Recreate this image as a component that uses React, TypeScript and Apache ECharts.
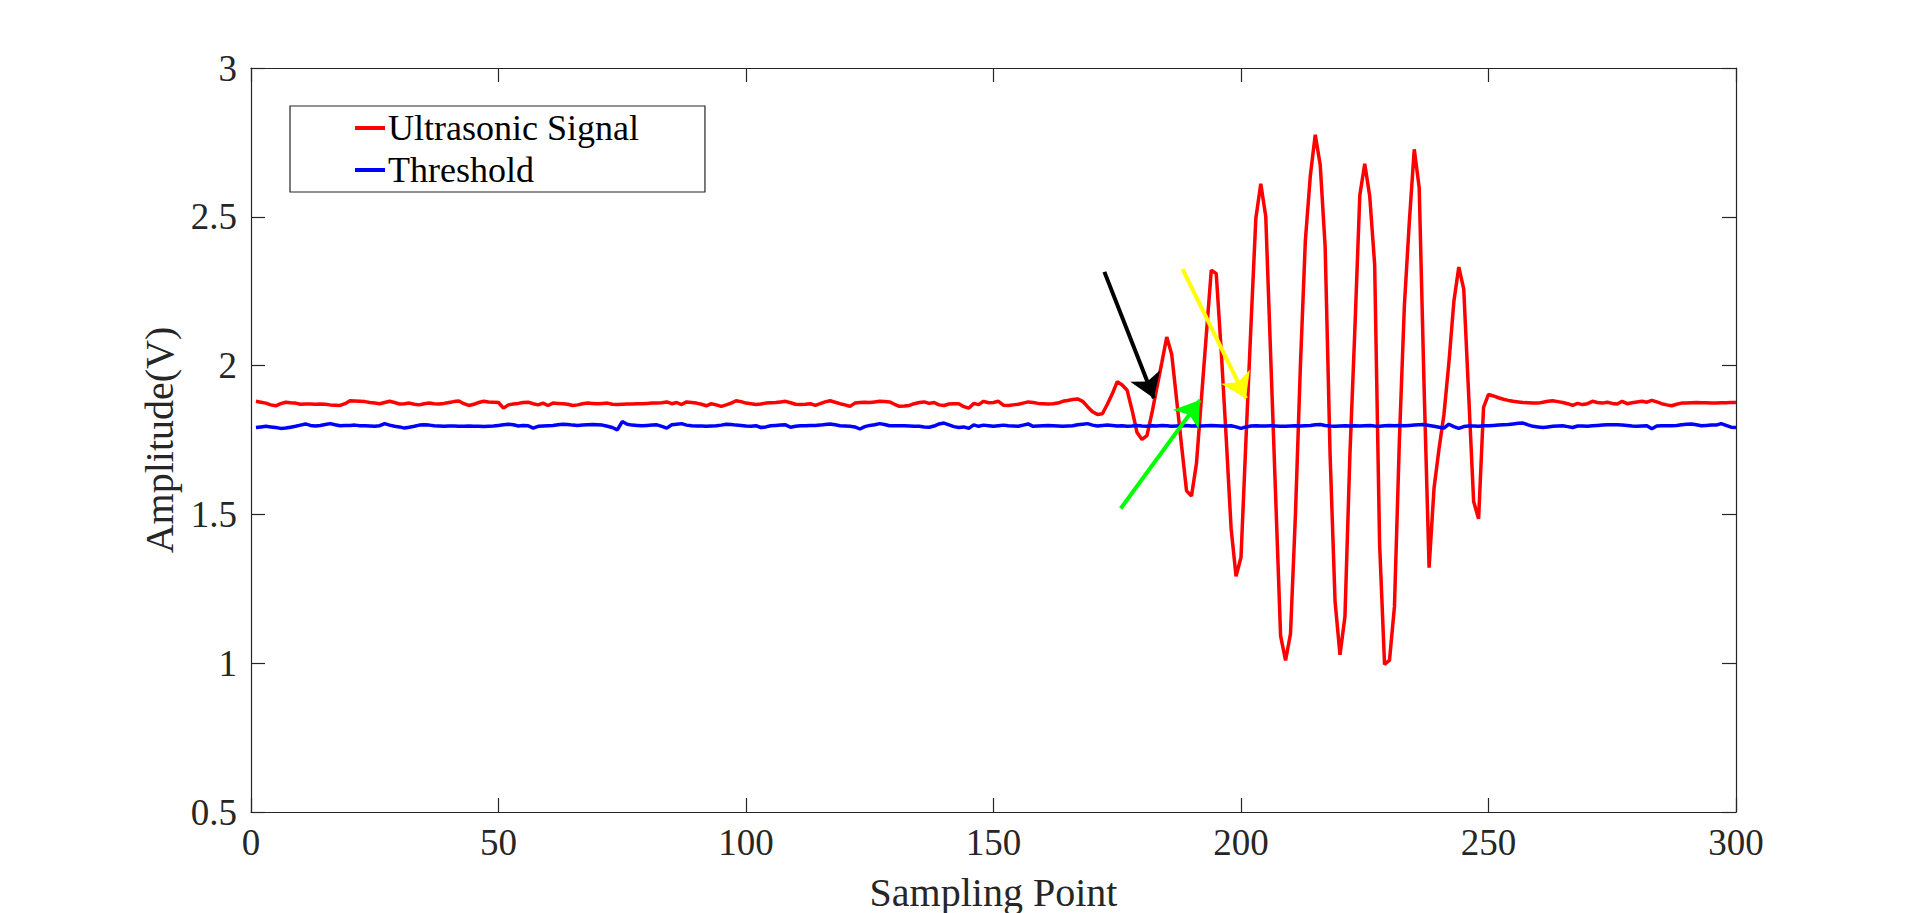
import React, { useEffect, useRef } from "react";
import * as echarts from "echarts";

const signal: number[] = [
  1.880, 1.877, 1.874, 1.868, 1.865, 1.872, 1.877, 1.875, 1.874, 1.870,
  1.871, 1.871, 1.870, 1.871, 1.870, 1.868, 1.867, 1.866, 1.872, 1.882,
  1.881, 1.880, 1.879, 1.876, 1.874, 1.872, 1.876, 1.880, 1.876, 1.871,
  1.872, 1.874, 1.870, 1.868, 1.872, 1.874, 1.872, 1.871, 1.873, 1.876,
  1.879, 1.881, 1.872, 1.866, 1.870, 1.876, 1.880, 1.878, 1.877, 1.876,
  1.857, 1.868, 1.871, 1.873, 1.876, 1.877, 1.872, 1.868, 1.874, 1.866,
  1.874, 1.873, 1.872, 1.870, 1.866, 1.868, 1.872, 1.874, 1.873, 1.872,
  1.873, 1.874, 1.870, 1.869, 1.870, 1.871, 1.871, 1.872, 1.872, 1.873,
  1.874, 1.874, 1.875, 1.878, 1.872, 1.876, 1.869, 1.878, 1.876, 1.874,
  1.870, 1.865, 1.872, 1.868, 1.863, 1.868, 1.874, 1.882, 1.879, 1.874,
  1.872, 1.869, 1.871, 1.874, 1.875, 1.876, 1.878, 1.880, 1.875, 1.870,
  1.869, 1.870, 1.872, 1.866, 1.872, 1.878, 1.882, 1.877, 1.872, 1.868,
  1.863, 1.874, 1.876, 1.877, 1.876, 1.878, 1.880, 1.879, 1.878, 1.870,
  1.863, 1.864, 1.866, 1.872, 1.876, 1.878, 1.873, 1.876, 1.868, 1.866,
  1.871, 1.872, 1.872, 1.862, 1.857, 1.873, 1.869, 1.880, 1.875, 1.876,
  1.880, 1.867, 1.866, 1.868, 1.870, 1.874, 1.878, 1.876, 1.873, 1.872,
  1.871, 1.872, 1.874, 1.880, 1.883, 1.886, 1.888, 1.880, 1.862, 1.845,
  1.836, 1.838, 1.870, 1.905, 1.946, 1.935, 1.917, 1.850, 1.775, 1.752,
  1.765, 1.840, 1.925, 2.010, 2.096, 2.038, 1.885, 1.730, 1.579, 1.562,
  1.671, 1.888, 2.105, 2.321, 2.309, 2.050, 1.760, 1.453, 1.292, 1.356,
  1.750, 2.130, 2.495, 2.611, 2.501, 2.030, 1.560, 1.092, 1.009, 1.099,
  1.500, 2.000, 2.420, 2.637, 2.776, 2.675, 2.400, 1.700, 1.208, 1.028,
  1.157, 1.700, 2.120, 2.572, 2.678, 2.570, 2.340, 1.400, 0.996, 1.010,
  1.190, 1.750, 2.200, 2.482, 2.727, 2.598, 1.920, 1.321, 1.589, 1.720,
  1.836, 2.010, 2.215, 2.331, 2.257, 1.900, 1.543, 1.485, 1.860, 1.903,
  1.898, 1.892, 1.887, 1.883, 1.880, 1.878, 1.876, 1.875, 1.874, 1.874,
  1.877, 1.880, 1.882, 1.879, 1.876, 1.872, 1.866, 1.873, 1.869, 1.872,
  1.880, 1.876, 1.874, 1.877, 1.873, 1.871, 1.880, 1.872, 1.875, 1.878,
  1.880, 1.877, 1.883, 1.878, 1.872, 1.868, 1.865, 1.870, 1.874, 1.874,
  1.875, 1.876, 1.875, 1.875, 1.874, 1.874, 1.875, 1.875, 1.876, 1.876,
];

const threshold: number[] = [
  1.792, 1.794, 1.796, 1.794, 1.792, 1.789, 1.790, 1.793, 1.796, 1.800,
  1.804, 1.799, 1.797, 1.799, 1.802, 1.805, 1.801, 1.798, 1.799, 1.799,
  1.800, 1.798, 1.798, 1.797, 1.796, 1.798, 1.805, 1.800, 1.796, 1.794,
  1.790, 1.793, 1.796, 1.800, 1.801, 1.800, 1.798, 1.797, 1.796, 1.797,
  1.797, 1.796, 1.796, 1.797, 1.796, 1.796, 1.795, 1.796, 1.797, 1.799,
  1.801, 1.803, 1.801, 1.797, 1.799, 1.798, 1.790, 1.796, 1.797, 1.798,
  1.799, 1.801, 1.803, 1.802, 1.800, 1.799, 1.800, 1.801, 1.802, 1.801,
  1.800, 1.796, 1.792, 1.784, 1.812, 1.803, 1.800, 1.799, 1.798, 1.799,
  1.800, 1.801, 1.796, 1.790, 1.801, 1.803, 1.805, 1.800, 1.798, 1.797,
  1.797, 1.796, 1.797, 1.798, 1.800, 1.803, 1.802, 1.800, 1.799, 1.797,
  1.796, 1.798, 1.792, 1.794, 1.798, 1.799, 1.800, 1.801, 1.793, 1.796,
  1.798, 1.798, 1.799, 1.799, 1.800, 1.802, 1.804, 1.801, 1.798, 1.797,
  1.796, 1.794, 1.787, 1.795, 1.799, 1.801, 1.805, 1.802, 1.798, 1.798,
  1.798, 1.798, 1.797, 1.796, 1.796, 1.794, 1.793, 1.797, 1.804, 1.807,
  1.801, 1.795, 1.792, 1.794, 1.789, 1.801, 1.796, 1.800, 1.798, 1.796,
  1.798, 1.800, 1.798, 1.797, 1.796, 1.800, 1.804, 1.796, 1.797, 1.798,
  1.799, 1.798, 1.797, 1.796, 1.797, 1.798, 1.801, 1.803, 1.805, 1.800,
  1.797, 1.799, 1.800, 1.799, 1.797, 1.798, 1.796, 1.797, 1.799, 1.797,
  1.796, 1.798, 1.797, 1.799, 1.798, 1.796, 1.797, 1.798, 1.799, 1.797,
  1.798, 1.797, 1.798, 1.799, 1.798, 1.797, 1.797, 1.798, 1.794, 1.789,
  1.794, 1.797, 1.798, 1.797, 1.797, 1.798, 1.797, 1.796, 1.796, 1.797,
  1.798, 1.797, 1.798, 1.799, 1.801, 1.802, 1.799, 1.797, 1.796, 1.797,
  1.798, 1.797, 1.798, 1.797, 1.798, 1.799, 1.797, 1.796, 1.798, 1.799,
  1.798, 1.799, 1.798, 1.799, 1.800, 1.801, 1.802, 1.799, 1.796, 1.793,
  1.790, 1.803, 1.795, 1.789, 1.795, 1.797, 1.797, 1.796, 1.798, 1.798,
  1.799, 1.800, 1.801, 1.802, 1.804, 1.806, 1.807, 1.801, 1.796, 1.794,
  1.792, 1.794, 1.796, 1.797, 1.798, 1.795, 1.792, 1.797, 1.797, 1.796,
  1.798, 1.799, 1.800, 1.801, 1.801, 1.801, 1.800, 1.799, 1.797, 1.796,
  1.797, 1.798, 1.788, 1.797, 1.798, 1.798, 1.798, 1.799, 1.801, 1.803,
  1.804, 1.801, 1.798, 1.799, 1.800, 1.800, 1.805, 1.799, 1.793, 1.792,
];

const seriesNames = ["Ultrasonic Signal", "Threshold"];
const xAxisName = "Sampling Point";
const yAxisName = "Amplitude(V)";

// annotation arrows: [tailX, tailY, tipX, tipY] in data coordinates
const arrowBlack = [172.4, 2.315, 182.4, 1.89];
const arrowYellow = [188.2, 2.324, 201.0, 1.89];
const arrowGreen = [175.7, 1.52, 191.7, 1.884];

const FONT = "'Times New Roman', 'Liberation Serif', serif";
const TEXT = "#262626";

export default function App() {
  const ref = useRef<HTMLDivElement>(null);

  useEffect(() => {
    if (!ref.current) return;
    const chart = echarts.init(ref.current, null, { renderer: "svg" });

    const sigData = signal.map((v, i) => [i + 1, v]);
    const thrData = threshold.map((v, i) => [i + 1, v]);

    const arrow = (a: number[], color: string) => [
      {
        coord: [a[0], a[1]],
        lineStyle: { color, width: 4, type: "solid" },
        itemStyle: { color },
        symbol: "none",
      },
      { coord: [a[2], a[3]], symbol: "arrow", symbolSize: 24, itemStyle: { color } },
    ];

    const axisCommon = {
      type: "value" as const,
      axisLine: { show: true, onZero: false, lineStyle: { color: TEXT, width: 1.2 } },
      axisTick: { show: true, inside: true, length: 14, lineStyle: { color: TEXT, width: 1.2 } },
      splitLine: { show: false },
      minorTick: { show: false },
    };

    chart.setOption({
      animation: false,
      backgroundColor: "#ffffff",
      textStyle: { fontFamily: FONT },
      grid: { left: 251, right: 184, top: 68, bottom: 101, containLabel: false, outerBoundsMode: "none" },
      legend: {
        left: 290,
        top: 106,
        orient: "vertical",
        padding: [4, 66, 4, 65],
        itemGap: 6,
        itemWidth: 30,
        itemHeight: 4,
        icon: "rect",
        borderColor: TEXT,
        borderWidth: 1.2,
        backgroundColor: "#ffffff",
        textStyle: { fontFamily: FONT, fontSize: 36, color: "#000", padding: [0, 0, 0, -2], lineHeight: 36 },
        data: [
          { name: seriesNames[0], itemStyle: { color: "#ff0000" } },
          { name: seriesNames[1], itemStyle: { color: "#0000ff" } },
        ],
      },
      xAxis: [
        {
          ...axisCommon,
          min: 0,
          max: 300,
          interval: 50,
          position: "bottom",
          name: xAxisName,
          nameLocation: "middle",
          nameGap: 60,
          nameTextStyle: { fontFamily: FONT, fontSize: 40, color: TEXT },
          axisLabel: { fontFamily: FONT, fontSize: 37, color: TEXT, margin: 12 },
        },
        {
          ...axisCommon,
          min: 0,
          max: 300,
          interval: 50,
          position: "top",
          axisLabel: { show: false },
        },
      ],
      yAxis: [
        {
          ...axisCommon,
          min: 0.5,
          max: 3,
          interval: 0.5,
          position: "left",
          name: yAxisName,
          nameLocation: "middle",
          nameGap: 63,
          nameTextStyle: { fontFamily: FONT, fontSize: 40, color: TEXT },
          axisLabel: { fontFamily: FONT, fontSize: 37, color: TEXT, margin: 14 },
        },
        {
          ...axisCommon,
          min: 0.5,
          max: 3,
          interval: 0.5,
          position: "right",
          axisLabel: { show: false },
        },
      ],
      series: [
        {
          name: seriesNames[0],
          type: "line",
          xAxisIndex: 0,
          yAxisIndex: 0,
          data: sigData,
          showSymbol: false,
          symbol: "none",
          lineStyle: { color: "#ff0000", width: 3.5 },
          itemStyle: { color: "#ff0000" },
          emphasis: { disabled: true },
          z: 2,
        },
        {
          name: seriesNames[1],
          type: "line",
          xAxisIndex: 0,
          yAxisIndex: 0,
          data: thrData,
          showSymbol: false,
          symbol: "none",
          lineStyle: { color: "#0000ff", width: 3.5 },
          itemStyle: { color: "#0000ff" },
          emphasis: { disabled: true },
          z: 3,
          markLine: {
            silent: true,
            animation: false,
            symbol: ["none", "arrow"],
            symbolSize: 24,
            label: { show: false },
            emphasis: { disabled: true },
            data: [
              arrow(arrowBlack, "#000000"),
              arrow(arrowYellow, "#ffff00"),
              arrow(arrowGreen, "#00ff00"),
            ],
          },
        },
      ],
    });

    return () => chart.dispose();
  }, []);

  return (
    <div
      ref={ref}
      style={{ position: "fixed", left: 0, top: 0, width: "1920px", height: "913px", background: "#fff" }}
    />
  );
}
